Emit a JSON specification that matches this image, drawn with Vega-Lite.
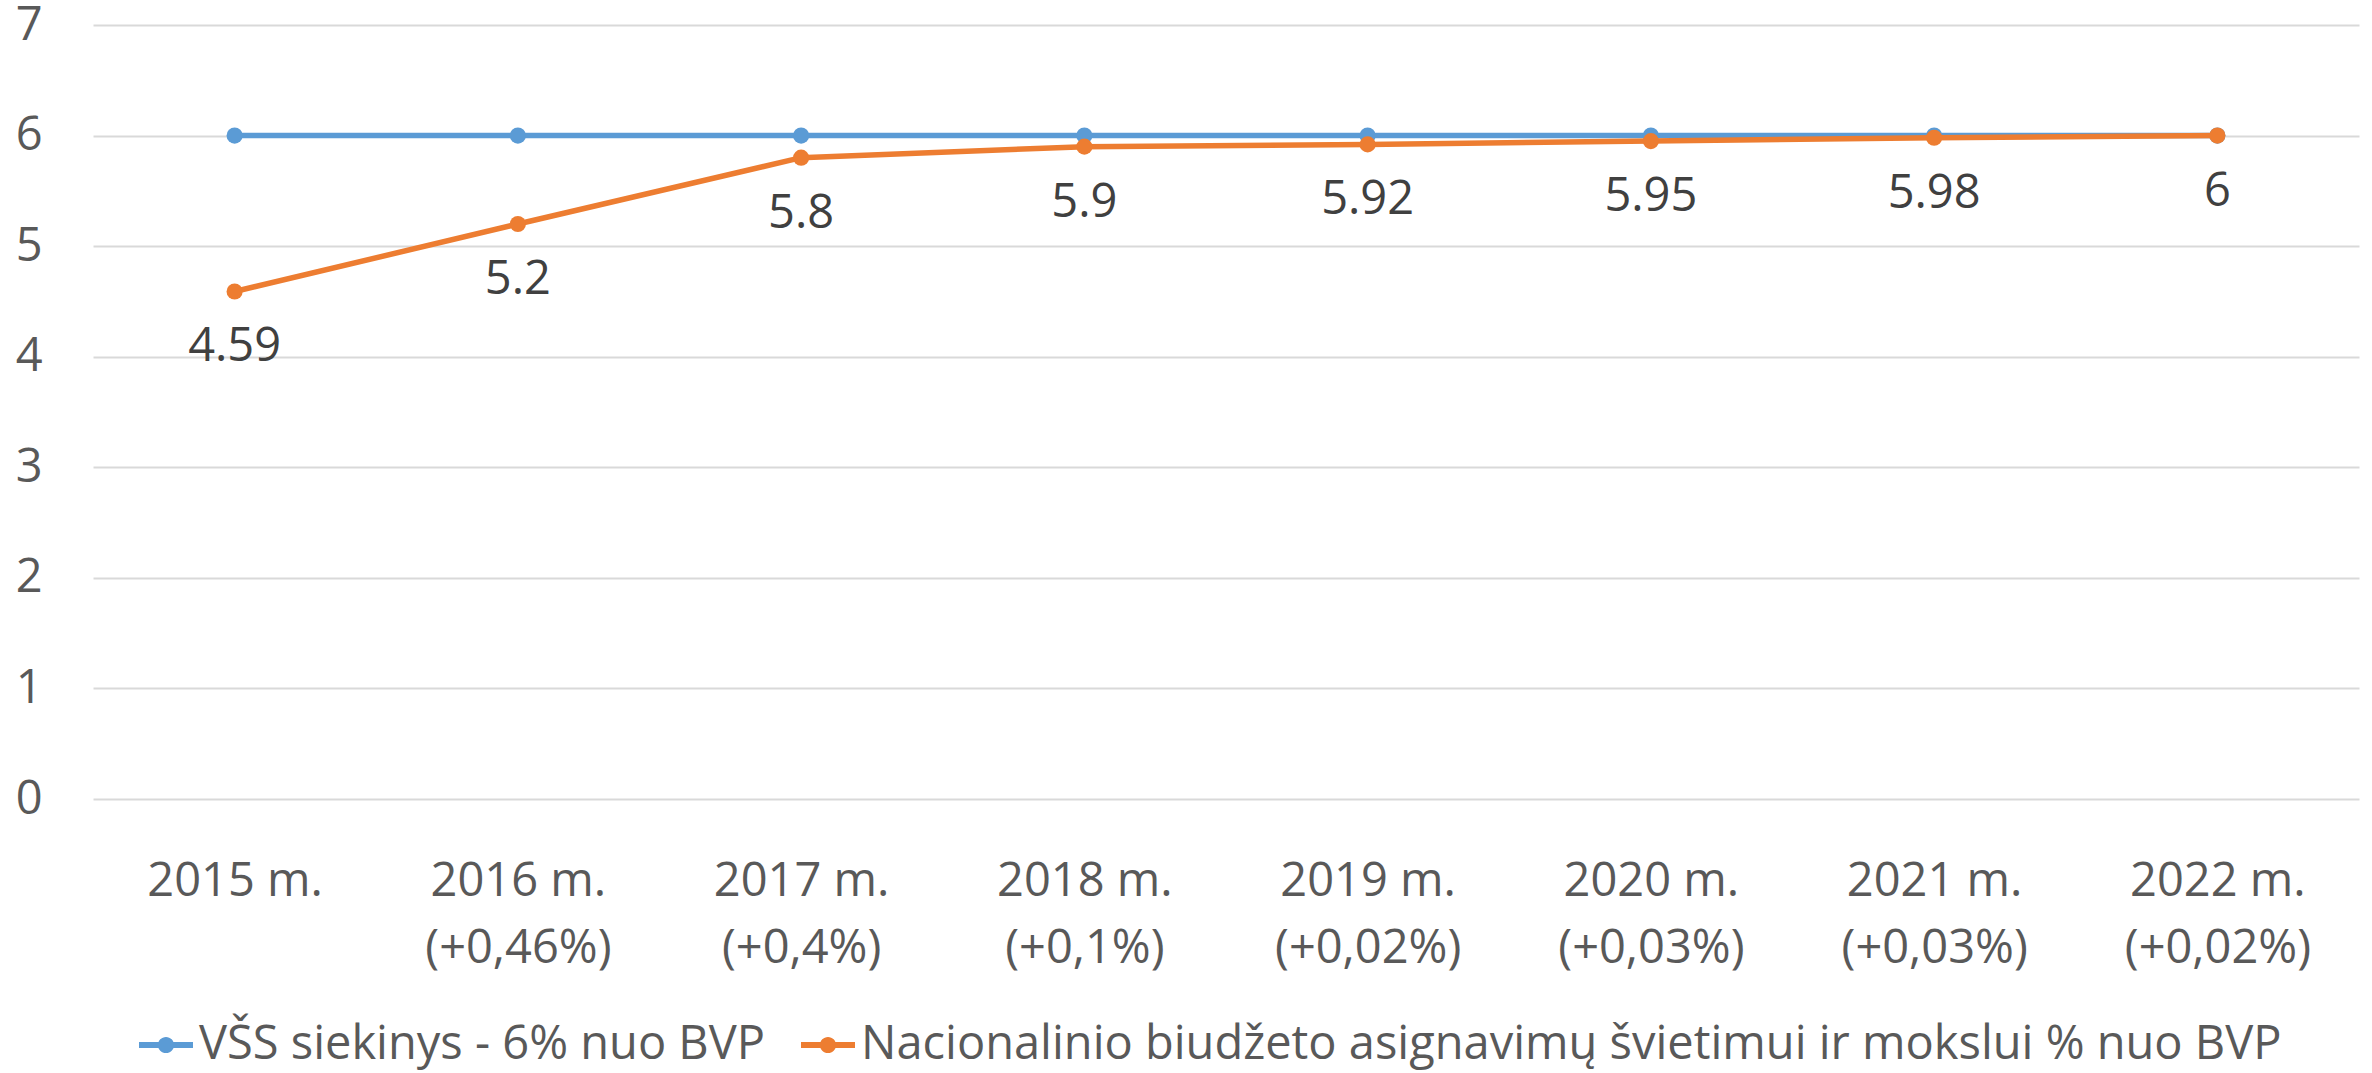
{
  "$schema": "https://vega.github.io/schema/vega-lite/v6.json",
  "autosize": "none",
  "width": 2266,
  "height": 774,
  "padding": {"left": 93, "top": 25, "right": 13, "bottom": 274},
  "background": "white",
  "data": {
    "values": [
      {"year": "2015 m.", "series": "VŠS siekinys - 6% nuo BVP", "value": 6},
      {"year": "2016 m.\n(+0,46%)", "series": "VŠS siekinys - 6% nuo BVP", "value": 6},
      {"year": "2017 m.\n(+0,4%)", "series": "VŠS siekinys - 6% nuo BVP", "value": 6},
      {"year": "2018 m.\n(+0,1%)", "series": "VŠS siekinys - 6% nuo BVP", "value": 6},
      {"year": "2019 m.\n(+0,02%)", "series": "VŠS siekinys - 6% nuo BVP", "value": 6},
      {"year": "2020 m.\n(+0,03%)", "series": "VŠS siekinys - 6% nuo BVP", "value": 6},
      {"year": "2021 m.\n(+0,03%)", "series": "VŠS siekinys - 6% nuo BVP", "value": 6},
      {"year": "2022 m.\n(+0,02%)", "series": "VŠS siekinys - 6% nuo BVP", "value": 6},
      {"year": "2015 m.", "series": "Nacionalinio biudžeto asignavimų švietimui ir mokslui % nuo BVP", "value": 4.59},
      {"year": "2016 m.\n(+0,46%)", "series": "Nacionalinio biudžeto asignavimų švietimui ir mokslui % nuo BVP", "value": 5.2},
      {"year": "2017 m.\n(+0,4%)", "series": "Nacionalinio biudžeto asignavimų švietimui ir mokslui % nuo BVP", "value": 5.8},
      {"year": "2018 m.\n(+0,1%)", "series": "Nacionalinio biudžeto asignavimų švietimui ir mokslui % nuo BVP", "value": 5.9},
      {"year": "2019 m.\n(+0,02%)", "series": "Nacionalinio biudžeto asignavimų švietimui ir mokslui % nuo BVP", "value": 5.92},
      {"year": "2020 m.\n(+0,03%)", "series": "Nacionalinio biudžeto asignavimų švietimui ir mokslui % nuo BVP", "value": 5.95},
      {"year": "2021 m.\n(+0,03%)", "series": "Nacionalinio biudžeto asignavimų švietimui ir mokslui % nuo BVP", "value": 5.98},
      {"year": "2022 m.\n(+0,02%)", "series": "Nacionalinio biudžeto asignavimų švietimui ir mokslui % nuo BVP", "value": 6}
    ]
  },
  "encoding": {
    "x": {
      "field": "year",
      "type": "ordinal",
      "sort": null,
      "scale": {"type": "point", "padding": 0.5},
      "axis": {
        "title": null,
        "labelAngle": 0,
        "domain": false,
        "ticks": false,
        "grid": false,
        "labelExpr": "split(datum.value, '\\n')",
        "labelFont": "Open Sans",
        "labelFontSize": 47,
        "labelColor": "#595959",
        "labelLineHeight": 67,
        "labelPadding": 59,
        "labelLimit": 1000
      }
    },
    "y": {
      "field": "value",
      "type": "quantitative",
      "scale": {"domain": [0, 7], "nice": false},
      "axis": {
        "title": null,
        "values": [0, 1, 2, 3, 4, 5, 6, 7],
        "domain": false,
        "ticks": false,
        "grid": true,
        "gridColor": "#d9d9d9",
        "gridWidth": 2,
        "labelFont": "Open Sans",
        "labelFontSize": 47,
        "labelColor": "#595959",
        "labelPadding": 51
      }
    },
    "color": {
      "field": "series",
      "type": "nominal",
      "scale": {
        "domain": ["VŠS siekinys - 6% nuo BVP", "Nacionalinio biudžeto asignavimų švietimui ir mokslui % nuo BVP"],
        "range": ["#5B9BD5", "#ED7D31"]
      },
      "legend": {
        "title": null,
        "orient": "none",
        "direction": "horizontal",
        "legendX": 46,
        "legendY": 993,
        "labelFont": "Open Sans",
        "labelFontSize": 47,
        "labelColor": "#595959",
        "labelLimit": 2000,
        "labelOffset": 6,
        "columnPadding": 35,
        "symbolType": "M-1,-0.11H-0.24V0.11H-1Z M0.24,-0.11H1V0.11H0.24Z M0.3,0A0.3,0.3 0 1 1 -0.3,0A0.3,0.3 0 1 1 0.3,0Z",
        "symbolSize": 2916,
        "symbolStrokeWidth": 0,
        "encode": {
          "symbols": {"update": {"fill": {"scale": "color", "field": "value"}, "strokeWidth": {"value": 0}, "opacity": {"value": 1}}}
        }
      }
    }
  },
  "layer": [
    {
      "transform": [{"filter": "datum.series === 'VŠS siekinys - 6% nuo BVP'"}],
      "mark": {"type": "line", "strokeWidth": 5.5, "point": {"filled": true, "size": 260, "opacity": 1}}
    },
    {
      "transform": [{"filter": "datum.series !== 'VŠS siekinys - 6% nuo BVP'"}],
      "mark": {"type": "line", "strokeWidth": 5.5, "point": {"filled": true, "size": 260, "opacity": 1}}
    },
    {
      "transform": [{"filter": "datum.series !== 'VŠS siekinys - 6% nuo BVP'"}],
      "mark": {"type": "text", "dy": 56, "baseline": "middle", "align": "center", "font": "Open Sans", "fontSize": 47, "color": "#404040"},
      "encoding": {
        "text": {"field": "value", "type": "quantitative"},
        "color": {"value": "#404040"}
      }
    }
  ],
  "config": {
    "view": {"stroke": null}
  }
}
